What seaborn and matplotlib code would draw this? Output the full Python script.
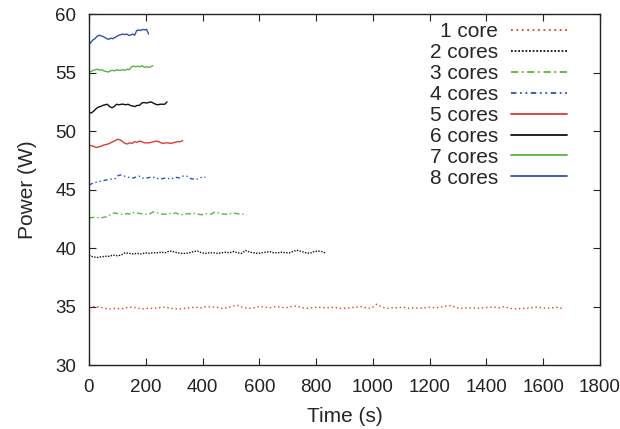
import numpy as np
import pandas as pd
import matplotlib
matplotlib.use("Agg")
import matplotlib.pyplot as plt
import seaborn as sns

labels = ["1 core", "2 cores", "3 cores", "4 cores", "5 cores", "6 cores", "7 cores", "8 cores"]
end_times = [1670, 835, 555, 410, 330, 275, 225, 210]

v1 = [34.9, 35.0, 34.95, 34.85, 34.8, 34.85, 34.8, 34.9, 34.95, 34.9,
      34.8, 34.85, 34.85, 34.9, 34.95, 34.9, 34.8, 34.8, 34.85, 34.9,
      34.95, 34.9, 35.0, 34.95, 34.95, 34.85, 34.9, 35.05, 35.1, 34.9,
      34.85, 34.9, 35.0, 34.95, 34.9, 35.0, 34.95, 34.9, 35.0, 35.05,
      34.9, 34.85, 34.9, 34.95, 34.9, 34.9, 34.95, 34.85, 34.85, 34.9,
      34.95, 35.0, 34.9, 34.85, 35.2, 34.95, 34.85, 34.9, 34.9, 34.95,
      34.85, 34.9, 34.85, 34.9, 34.95, 34.9, 34.95, 35.05, 35.1, 34.9,
      34.85, 34.9, 34.9, 34.85, 34.9, 34.95, 34.95, 34.9, 35.0, 34.85,
      34.8, 34.85, 34.85, 34.9, 34.95, 34.9, 34.85, 34.9, 34.95, 34.8]
v2 = [39.4, 39.25, 39.2, 39.25, 39.3, 39.3, 39.4, 39.35, 39.4, 39.6,
      39.55, 39.5, 39.55, 39.5, 39.6, 39.55, 39.6, 39.6, 39.65, 39.6,
      39.75, 39.7, 39.6, 39.55, 39.55, 39.6, 39.7, 39.75, 39.6, 39.55,
      39.6, 39.6, 39.55, 39.6, 39.65, 39.6, 39.7, 39.6, 39.55, 39.8,
      39.65, 39.6, 39.55, 39.6, 39.65, 39.7, 39.6, 39.6, 39.65, 39.6,
      39.6, 39.75, 39.8, 39.7, 39.6, 39.55, 39.7, 39.75, 39.7, 39.55]
v3 = [42.6, 42.6, 42.65, 42.6, 42.6, 42.65, 42.7, 42.95, 43.0, 42.95,
      42.9, 42.9, 42.95, 42.9, 43.05, 43.0, 42.95, 42.9, 42.9, 42.95,
      43.1, 43.05, 42.95, 42.9, 42.9, 42.95, 42.95, 43.0, 42.9, 42.85,
      42.9, 42.95, 42.9, 43.0, 42.9, 42.85, 42.9, 42.95, 42.9, 43.05,
      43.05, 42.95, 42.9, 42.9, 42.95, 43.0, 42.95, 42.9, 42.9, 42.85]
v4 = [45.4, 45.5, 45.6, 45.65, 45.7, 45.75, 45.8, 45.85, 45.9, 45.9,
      45.95, 46.2, 46.25, 46.2, 46.1, 46.05, 46.0, 46.0, 46.1, 46.15,
      46.0, 45.95, 46.0, 46.05, 46.1, 46.0, 45.95, 45.9, 45.95, 46.0,
      45.95, 45.9, 46.0, 46.05, 46.0, 46.1, 46.2, 46.15, 46.0, 45.9,
      45.95, 45.9, 46.0, 46.1, 46.05]
v5 = [48.8, 48.75, 48.7, 48.6, 48.65, 48.7, 48.8, 48.85, 48.9, 49.0,
      49.1, 49.2, 49.3, 49.25, 49.1, 48.95, 48.9, 49.0, 48.95, 49.1,
      49.05, 49.15, 49.1, 49.0, 49.0, 49.0, 49.05, 49.1, 49.15, 49.1,
      49.0, 48.95, 49.0, 49.0, 48.95, 49.0, 49.05, 49.1, 49.1, 49.2]
v6 = [51.6, 51.55, 51.7, 51.9, 52.05, 52.1, 52.2, 52.25, 52.3, 52.1,
      52.0, 52.1, 52.3, 52.25, 52.3, 52.3, 52.25, 52.3, 52.2, 52.15,
      52.1, 52.2, 52.2, 52.4, 52.45, 52.4, 52.45, 52.5, 52.4, 52.3,
      52.25, 52.3, 52.3, 52.3, 52.5]
v7 = [55.05, 55.1, 55.2, 55.25, 55.3, 55.2, 55.25, 55.15, 55.1, 55.05,
      55.15, 55.2, 55.15, 55.25, 55.2, 55.2, 55.25, 55.2, 55.3, 55.25,
      55.5, 55.55, 55.5, 55.55, 55.5, 55.6, 55.45, 55.5, 55.45, 55.5, 55.6]
v8 = [57.4, 57.6, 57.8, 57.9, 58.1, 58.2, 58.15, 58.1, 58.0, 57.9,
      57.85, 57.95, 57.9, 58.0, 58.1, 58.2, 58.25, 58.3, 58.25, 58.3,
      58.2, 58.2, 58.3, 58.2, 58.6, 58.65, 58.6, 58.7, 58.65, 58.7, 58.3]
series_values = [v1, v2, v3, v4, v5, v6, v7, v8]

x_ticks = [0, 200, 400, 600, 800, 1000, 1200, 1400, 1600, 1800]
y_ticks = [30, 35, 40, 45, 50, 55, 60]

frames = []
for lab, end, vals in zip(labels, end_times, series_values):
    t = np.linspace(0, end, len(vals))
    frames.append(pd.DataFrame({"Time": t, "Power": vals, "series": lab}))
df = pd.concat(frames, ignore_index=True)

red = "#dc3c32"
green = "#5ab446"
blue = "#3250b4"
black = "#111111"
palette = {"1 core": red, "2 cores": black, "3 cores": green, "4 cores": blue,
           "5 cores": red, "6 cores": black, "7 cores": green, "8 cores": blue}
dashes = {"1 core": (1, 2), "2 cores": (1, 1), "3 cores": (4, 2, 1, 2),
          "4 cores": (3, 2, 1, 2, 1, 2), "5 cores": "", "6 cores": "",
          "7 cores": "", "8 cores": ""}

sns.set_style("ticks")
plt.rcParams["font.family"] = ["Liberation Sans", "DejaVu Sans"]

FS = 15
TFS = 13.5

fig = plt.figure(figsize=(6.2, 4.29), dpi=100)
ax = fig.add_axes([0.1435, 0.149, 0.8242, 0.818])

sns.lineplot(data=df, x="Time", y="Power", hue="series", style="series",
             hue_order=labels, style_order=labels, palette=palette,
             dashes=dashes, linewidth=1.0, ax=ax, sort=False, estimator=None)

ax.set_xlim(0, 1800)
ax.set_ylim(30, 60)
ax.set_xticks(x_ticks)
ax.set_yticks(y_ticks)
ax.tick_params(direction="in", length=5, width=0.8, top=True, right=True,
               labelsize=TFS, pad=9, colors="#222222")
ax.tick_params(axis="x", pad=10)
for s in ax.spines.values():
    s.set_linewidth(1.0)
    s.set_color("#222222")
ax.set_xlabel("Time (s)", fontsize=FS, labelpad=8)
ax.set_ylabel("Power (W)", fontsize=FS, labelpad=13)

handles, labs = ax.get_legend_handles_labels()
for h in handles:
    h.set_linewidth(1.3)
ax.legend(handles, labs, loc="upper right", bbox_to_anchor=(0.96, 1.012),
          frameon=False, markerfirst=False, fontsize=FS, handlelength=2.7,
          handletextpad=0.6, labelspacing=0.09, borderaxespad=0.2)

fig.savefig("out.png", dpi=100)
